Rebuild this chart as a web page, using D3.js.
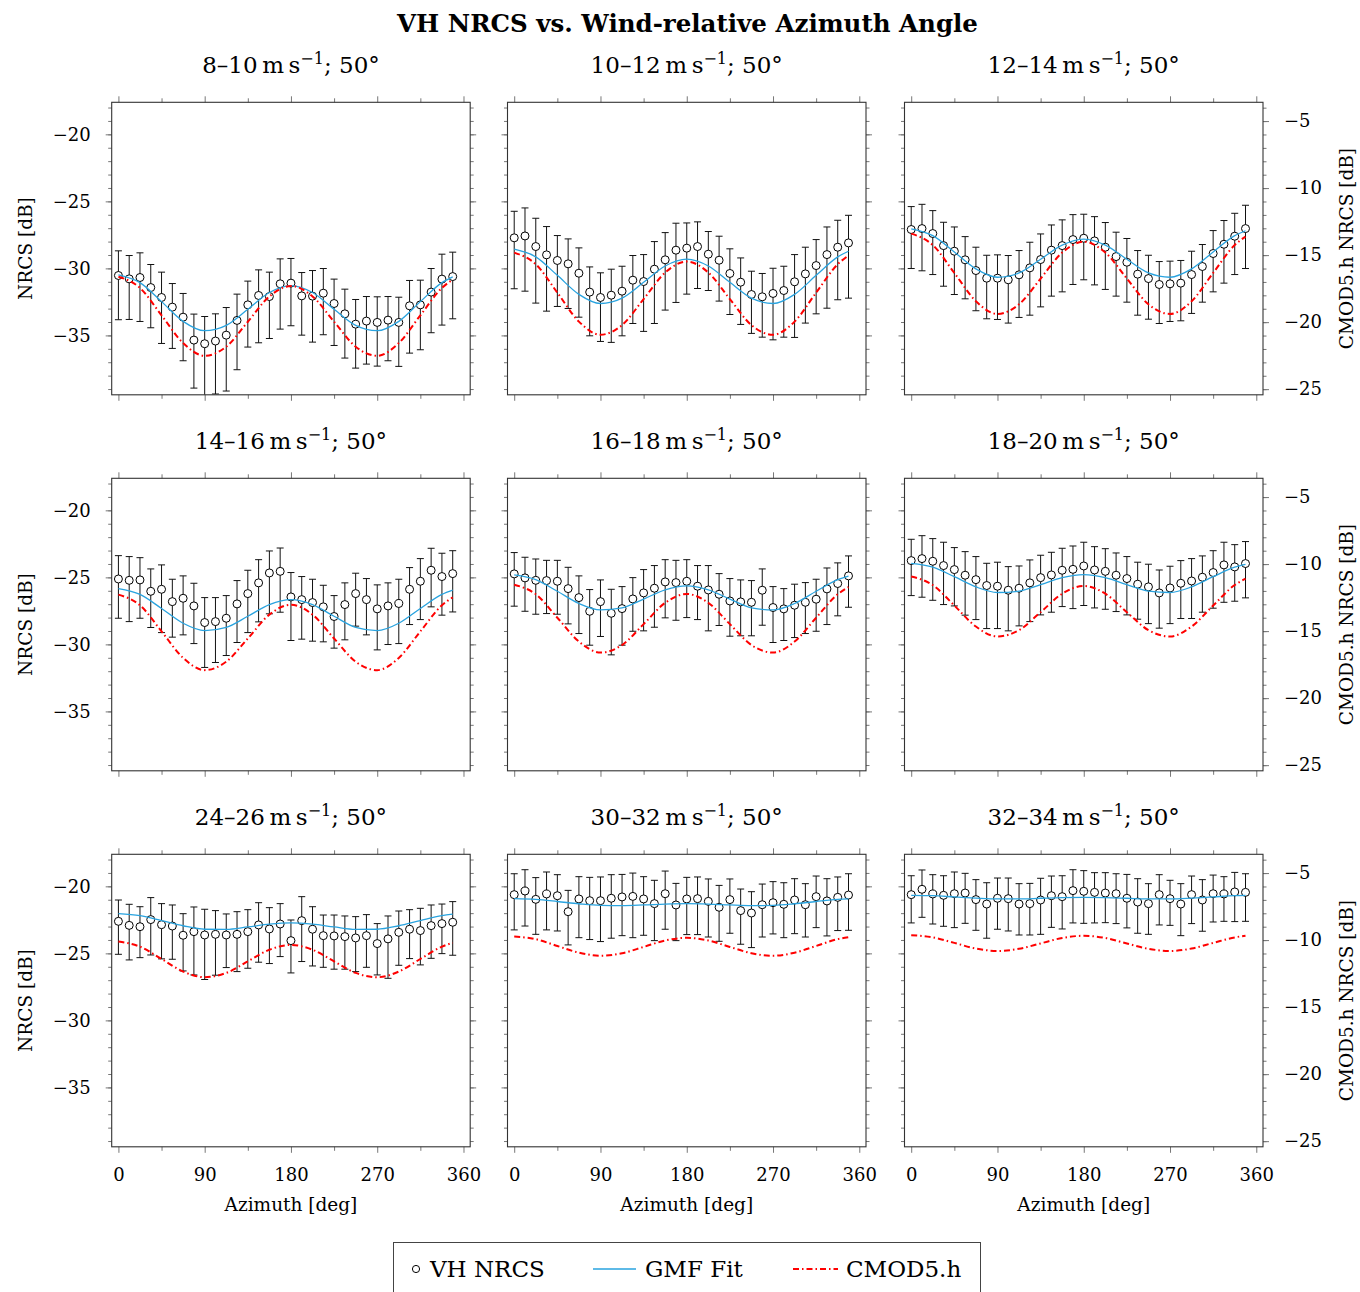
<!DOCTYPE html>
<html>
<head>
<meta charset="utf-8">
<script src="https://cdn.jsdelivr.net/npm/d3@7"></script>
<style>
  body { margin: 0; background: #fff; }
</style>
</head>
<body>
<svg id="chart"></svg>
<script>
// azimuth bins (deg) of the measured points
var azimuth = [0, 11.25, 22.5, 33.75, 45, 56.25, 67.5, 78.75, 90, 101.25, 112.5, 123.75,
    135, 146.25, 157.5, 168.75, 180, 191.25, 202.5, 213.75, 225, 236.25, 247.5, 258.75,
    270, 281.25, 292.5, 303.75, 315, 326.25, 337.5, 348.75];
// azimuths where the model curves are sampled
var curveAzimuth = [0, 22.5, 45, 67.5, 90, 112.5, 135, 157.5, 180, 202.5, 225, 247.5,
    270, 292.5, 315, 337.5, 348.75];

var speedBins = ["8–10", "10–12", "12–14", "14–16", "16–18", "18–20", "24–26", "30–32", "32–34"];

// VH NRCS mean [dB], one row per wind speed bin
var nrcs = [
    [-30.53, -30.78, -30.68, -31.43, -32.17, -32.89, -33.64, -35.35, -35.62, -35.42, -34.98, -33.88, -32.72, -32.02, -32.10, -31.15, -31.10, -32.05, -32.07, -31.85, -32.62, -33.39, -34.16, -33.93, -34.03, -33.86, -34.03, -32.79, -32.72, -31.77, -30.80, -30.61],
    [-27.72, -27.58, -28.37, -28.99, -29.41, -29.66, -30.36, -31.77, -32.17, -32.00, -31.70, -30.88, -30.98, -30.06, -29.36, -28.64, -28.49, -28.37, -28.94, -29.39, -30.38, -31.03, -31.95, -32.12, -31.87, -31.65, -31.00, -30.41, -29.79, -28.97, -28.42, -28.10],
    [-27.10, -27.03, -27.40, -28.30, -28.72, -29.36, -30.16, -30.73, -30.73, -30.85, -30.48, -29.96, -29.34, -28.64, -28.30, -27.85, -27.75, -27.95, -28.42, -29.12, -29.54, -30.43, -30.76, -31.20, -31.15, -31.10, -30.46, -29.86, -28.89, -28.20, -27.60, -27.03],
    [-25.12, -25.22, -25.19, -26.04, -25.89, -26.81, -26.56, -27.13, -28.37, -28.30, -28.05, -26.98, -26.21, -25.41, -24.67, -24.55, -26.46, -26.66, -26.88, -27.20, -27.92, -27.03, -26.21, -26.66, -27.35, -27.13, -26.95, -25.89, -25.29, -24.47, -24.94, -24.72],
    [-24.74, -25.04, -25.22, -25.24, -25.29, -25.84, -26.51, -27.53, -26.81, -27.68, -27.33, -26.61, -26.16, -25.81, -25.34, -25.39, -25.29, -25.66, -25.94, -26.26, -26.76, -26.83, -26.86, -25.96, -27.25, -27.35, -27.08, -26.86, -26.63, -25.86, -25.46, -24.89],
    [-23.75, -23.60, -23.80, -24.12, -24.42, -24.84, -25.17, -25.61, -25.66, -25.96, -25.81, -25.41, -25.02, -24.82, -24.47, -24.40, -24.15, -24.45, -24.55, -24.84, -25.09, -25.51, -25.71, -26.16, -25.79, -25.44, -25.27, -24.99, -24.64, -24.07, -24.22, -23.97],
    [-22.61, -22.91, -23.01, -22.48, -22.86, -22.96, -23.65, -23.38, -23.63, -23.58, -23.63, -23.58, -23.38, -22.88, -23.18, -22.81, -24.05, -22.56, -23.20, -23.68, -23.70, -23.75, -23.85, -23.68, -24.27, -23.92, -23.43, -23.20, -23.30, -22.93, -22.78, -22.68],
    [-20.62, -20.35, -20.97, -20.57, -20.70, -21.89, -20.94, -21.07, -21.07, -20.89, -20.79, -20.75, -20.94, -21.29, -20.55, -21.39, -20.94, -20.92, -21.12, -21.56, -20.99, -21.81, -21.99, -21.37, -21.22, -21.34, -21.02, -21.37, -20.77, -21.09, -20.82, -20.65],
    [-20.62, -20.22, -20.57, -20.67, -20.55, -20.50, -20.99, -21.32, -20.89, -20.92, -21.32, -21.29, -21.02, -20.70, -20.77, -20.32, -20.37, -20.45, -20.50, -20.55, -20.89, -21.17, -21.29, -20.62, -20.92, -21.32, -20.62, -21.02, -20.55, -20.57, -20.42, -20.45]
];
// upper end of the error bars [dB]
var nrcsUpper = [
    [-28.69, -29.04, -28.84, -29.71, -30.28, -31.13, -31.87, -33.41, -33.59, -33.39, -32.92, -31.92, -30.95, -30.11, -30.28, -29.29, -29.26, -30.31, -30.16, -30.01, -30.80, -31.55, -32.32, -32.10, -32.12, -32.10, -32.15, -30.90, -30.88, -30.01, -28.94, -28.79],
    [-25.74, -25.49, -26.26, -26.88, -27.55, -27.80, -28.47, -29.89, -30.33, -30.06, -29.84, -29.04, -28.97, -28.00, -27.33, -26.63, -26.61, -26.53, -27.25, -27.60, -28.54, -29.22, -30.21, -30.38, -29.99, -29.84, -28.97, -28.42, -27.85, -26.91, -26.41, -26.04],
    [-25.39, -25.22, -25.69, -26.56, -26.91, -27.63, -28.42, -29.02, -28.99, -29.04, -28.67, -28.05, -27.43, -26.76, -26.38, -25.99, -25.96, -26.14, -26.58, -27.30, -27.77, -28.67, -29.02, -29.49, -29.46, -29.41, -28.72, -28.22, -27.18, -26.43, -25.89, -25.29],
    [-23.38, -23.45, -23.53, -24.37, -24.07, -25.14, -24.89, -25.44, -26.51, -26.51, -26.36, -25.24, -24.47, -23.68, -23.03, -22.81, -24.64, -24.94, -25.14, -25.59, -26.36, -25.41, -24.69, -25.09, -25.56, -25.41, -25.14, -24.27, -23.60, -22.83, -23.20, -23.01],
    [-23.15, -23.50, -23.63, -23.73, -23.73, -24.25, -24.89, -25.91, -25.19, -25.89, -25.69, -25.02, -24.42, -24.12, -23.68, -23.73, -23.68, -24.12, -24.12, -24.72, -25.09, -25.19, -25.24, -24.37, -25.69, -25.84, -25.51, -25.39, -25.14, -24.30, -23.92, -23.40],
    [-22.16, -21.89, -22.11, -22.38, -22.78, -23.08, -23.45, -23.95, -23.87, -24.20, -24.15, -23.70, -23.35, -23.13, -22.83, -22.66, -22.38, -22.71, -22.86, -23.18, -23.45, -23.87, -24.02, -24.45, -24.17, -23.75, -23.60, -23.40, -23.01, -22.38, -22.56, -22.33],
    [-21.02, -21.34, -21.52, -20.84, -21.29, -21.39, -22.04, -21.54, -21.71, -21.81, -22.06, -21.89, -21.74, -21.22, -21.59, -21.29, -22.51, -20.77, -21.52, -22.14, -22.14, -22.21, -22.26, -22.11, -22.78, -22.21, -21.84, -21.74, -21.64, -21.39, -21.32, -21.14],
    [-19.06, -18.76, -19.35, -18.93, -19.13, -20.30, -19.28, -19.33, -19.30, -19.13, -19.11, -19.01, -19.28, -19.55, -18.86, -19.78, -19.33, -19.30, -19.45, -19.93, -19.45, -20.20, -20.40, -19.83, -19.65, -19.73, -19.43, -19.80, -19.23, -19.43, -19.30, -19.06],
    [-19.21, -18.78, -19.13, -19.21, -18.93, -19.03, -19.50, -19.73, -19.38, -19.38, -19.80, -19.78, -19.40, -19.23, -19.21, -18.76, -18.83, -18.98, -18.98, -19.06, -19.11, -19.43, -19.80, -19.13, -19.55, -19.80, -19.23, -19.50, -19.16, -19.28, -18.96, -19.06]
];
// lower end of the error bars [dB]
var nrcsLower = [
    [-33.83, -33.81, -33.96, -34.43, -35.60, -35.97, -36.89, -38.93, -40.20, -39.37, -39.15, -37.56, -35.87, -35.55, -35.23, -34.53, -34.28, -34.98, -35.50, -34.95, -35.75, -36.69, -37.44, -37.14, -37.29, -36.89, -37.31, -36.32, -36.07, -34.80, -34.23, -33.76],
    [-31.52, -31.70, -32.59, -33.19, -32.84, -32.99, -33.64, -35.03, -35.45, -35.52, -35.03, -34.11, -34.70, -34.11, -33.11, -32.54, -31.92, -31.50, -31.65, -32.44, -33.44, -34.18, -34.85, -35.13, -35.33, -35.13, -35.15, -34.08, -33.39, -32.97, -32.34, -32.22],
    [-30.01, -30.18, -30.46, -31.33, -31.95, -32.27, -33.16, -33.76, -33.81, -34.08, -33.66, -33.49, -32.87, -32.07, -31.75, -31.20, -30.85, -31.23, -31.57, -32.07, -32.52, -33.49, -33.79, -34.11, -33.96, -33.91, -33.36, -32.52, -31.75, -31.10, -30.46, -30.01],
    [-28.05, -28.30, -28.05, -28.74, -29.12, -29.46, -29.29, -29.94, -31.72, -31.35, -30.83, -29.86, -29.12, -28.32, -27.72, -27.60, -29.71, -29.61, -29.76, -29.81, -30.28, -29.66, -28.64, -29.29, -30.41, -30.01, -29.94, -28.52, -28.15, -27.20, -27.82, -27.58],
    [-27.15, -27.53, -27.75, -27.70, -27.75, -28.47, -29.19, -30.06, -29.41, -30.78, -30.06, -29.02, -28.99, -28.72, -28.02, -28.20, -28.00, -28.15, -28.99, -28.59, -29.39, -29.36, -29.36, -28.57, -29.86, -29.71, -29.49, -29.19, -29.02, -28.52, -27.87, -27.23],
    [-26.36, -26.48, -26.71, -27.03, -27.13, -27.82, -28.15, -28.82, -28.82, -28.99, -28.62, -28.30, -27.80, -27.60, -27.18, -27.33, -27.10, -27.28, -27.38, -27.55, -27.80, -28.12, -28.45, -28.79, -28.45, -28.07, -28.07, -27.60, -27.30, -26.86, -26.78, -26.53],
    [-25.07, -25.49, -25.32, -25.12, -25.41, -25.44, -26.31, -26.61, -26.95, -26.63, -26.06, -26.36, -26.11, -25.66, -25.76, -25.24, -26.46, -25.61, -25.94, -26.04, -26.18, -26.18, -26.36, -26.04, -26.61, -26.86, -25.89, -25.39, -25.86, -25.37, -25.02, -25.14],
    [-23.25, -22.96, -23.58, -23.25, -23.33, -24.37, -23.83, -23.97, -24.12, -23.87, -23.68, -23.83, -23.65, -24.05, -23.20, -24.05, -23.60, -23.60, -23.78, -24.10, -23.50, -24.32, -24.57, -23.78, -23.55, -23.83, -23.53, -23.78, -23.08, -23.70, -23.30, -23.28],
    [-22.73, -22.31, -22.81, -22.98, -23.08, -22.76, -23.28, -23.87, -23.20, -23.33, -23.63, -23.63, -23.58, -23.06, -23.18, -22.73, -22.76, -22.73, -22.71, -22.78, -23.10, -23.50, -23.58, -22.88, -22.91, -23.68, -22.78, -23.35, -22.66, -22.61, -22.63, -22.61]
];
// GMF fit [dB] at curveAzimuth (left axis)
var gmfFit = [
    [-30.48, -31.06, -32.48, -33.95, -34.65, -34.25, -33.05, -31.80, -31.28, -31.80, -33.05, -34.25, -34.65, -33.95, -32.48, -31.06, -30.63],
    [-28.57, -29.14, -30.52, -31.94, -32.62, -32.22, -31.04, -29.82, -29.31, -29.82, -31.04, -32.22, -32.62, -31.94, -30.52, -29.14, -28.72],
    [-27.05, -27.56, -28.78, -30.04, -30.66, -30.34, -29.32, -28.27, -27.82, -28.27, -29.32, -30.34, -30.66, -30.04, -28.78, -27.56, -27.19],
    [-25.84, -26.27, -27.32, -28.42, -28.97, -28.73, -27.90, -27.03, -26.66, -27.03, -27.90, -28.73, -28.97, -28.42, -27.32, -26.27, -25.95],
    [-24.82, -25.17, -26.04, -26.95, -27.43, -27.27, -26.62, -25.93, -25.64, -25.93, -26.62, -27.27, -27.43, -26.95, -26.04, -25.17, -24.91],
    [-23.95, -24.24, -24.95, -25.71, -26.13, -26.03, -25.55, -25.02, -24.79, -25.02, -25.55, -26.03, -26.13, -25.71, -24.95, -24.24, -24.03],
    [-22.04, -22.19, -22.55, -22.94, -23.20, -23.21, -23.03, -22.82, -22.73, -22.82, -23.03, -23.21, -23.20, -22.94, -22.55, -22.19, -22.08],
    [-20.92, -20.98, -21.13, -21.30, -21.42, -21.44, -21.39, -21.32, -21.29, -21.32, -21.39, -21.44, -21.42, -21.30, -21.13, -20.98, -20.94],
    [-20.67, -20.70, -20.79, -20.88, -20.94, -20.94, -20.89, -20.84, -20.82, -20.84, -20.89, -20.94, -20.94, -20.88, -20.79, -20.70, -20.68]
];
// CMOD5.h NRCS [dB] at curveAzimuth (right axis)
var cmod5h = [
    [-16.61, -17.45, -19.49, -21.56, -22.51, -21.83, -19.97, -18.08, -17.30, -18.08, -19.97, -21.83, -22.51, -21.56, -19.49, -17.45, -16.82],
    [-14.81, -15.68, -17.80, -19.96, -20.94, -20.22, -18.28, -16.30, -15.48, -16.30, -18.28, -20.22, -20.94, -19.96, -17.80, -15.68, -15.03],
    [-13.40, -14.25, -16.33, -18.44, -19.39, -18.67, -16.75, -14.81, -14.00, -14.81, -16.75, -18.67, -19.39, -18.44, -16.33, -14.25, -13.62],
    [-12.28, -13.07, -15.02, -17.00, -17.91, -17.28, -15.55, -13.77, -13.03, -13.77, -15.55, -17.28, -17.91, -17.00, -15.02, -13.07, -12.48],
    [-11.54, -12.25, -14.00, -15.78, -16.60, -16.04, -14.48, -12.89, -12.23, -12.89, -14.48, -16.04, -16.60, -15.78, -14.00, -12.25, -11.72],
    [-10.93, -11.56, -13.09, -14.66, -15.40, -14.93, -13.59, -12.21, -11.63, -12.21, -13.59, -14.93, -15.40, -14.66, -13.09, -11.56, -11.09],
    [-10.11, -10.49, -11.41, -12.35, -12.77, -12.45, -11.59, -10.72, -10.36, -10.72, -11.59, -12.45, -12.77, -12.35, -11.41, -10.49, -10.20],
    [-9.73, -9.93, -10.44, -10.94, -11.17, -10.98, -10.51, -10.03, -9.83, -10.03, -10.51, -10.98, -11.17, -10.94, -10.44, -9.93, -9.78],
    [-9.63, -9.80, -10.21, -10.63, -10.81, -10.65, -10.25, -9.84, -9.68, -9.84, -10.25, -10.65, -10.81, -10.63, -10.21, -9.80, -9.67]
];

var xTicks = [0, 90, 180, 270, 360];
var xMinorTicks = [45, 135, 225, 315];
var leftTicks = [-35, -30, -25, -20];
var rightTicks = [-25, -20, -15, -10, -5];

var W = 1360, H = 1292;
var font = "'DejaVu Serif', 'Liberation Serif', serif";
var colLeft = [111.7, 507.5, 904.5],
    rowTop = [102.3, 478.3, 854.3];
var pw = 358.5, ph = 292.5;

var svg = d3.select("#chart")
        .attr("width", W)
        .attr("height", H)
        .style("font-family", font);

var x = d3.scaleLinear().domain([-7, 367]).range([0, pw]);
var yLeft = d3.scaleLinear().domain([-39.43, -17.61]).range([ph, 0]);
var yRight = d3.scaleLinear().domain([-25.42, -3.60]).range([ph, 0]);
var fmt = d3.format("d");

// main title
svg.append("text")
        .attr("x", 687.5)
        .attr("y", 31.5)
        .attr("text-anchor", "middle")
        .attr("font-weight", "bold")
        .attr("font-size", 24.5)
        .text("VH NRCS vs. Wind-relative Azimuth Angle");

var defs = svg.append("defs");

function styleAxis(g, fontSize) {
    g.select(".domain").remove();
    g.selectAll(".tick line").attr("stroke", "#777").attr("stroke-width", 1);
    g.selectAll(".tick text").attr("fill", "#000")
            .attr("font-family", font).attr("font-size", fontSize);
    g.attr("font-family", null).attr("font-size", null);
}

speedBins.forEach(function (bin, i) {
    var col = i % 3, row = Math.floor(i / 3);
    var g = svg.append("g")
            .attr("transform", "translate(" + colLeft[col] + "," + rowTop[row] + ")");

    // panel title
    var t = g.append("text")
            .attr("x", pw / 2)
            .attr("y", -29.6)
            .attr("text-anchor", "middle")
            .attr("font-size", 23);
    t.append("tspan").text(bin + "\u2009m\u2009s");
    t.append("tspan").attr("dy", -9).attr("font-size", 16).text("\u22121");
    t.append("tspan").attr("dy", 9).text("; 50°");

    // ticks: x (top and bottom)
    var bottom = g.append("g").attr("transform", "translate(0," + ph + ")")
            .call(d3.axisBottom(x).tickValues(xTicks).tickSize(6).tickPadding(15)
                    .tickFormat(row === 2 ? fmt : ""));
    styleAxis(bottom, 18);
    styleAxis(g.append("g").attr("transform", "translate(0," + ph + ")")
            .call(d3.axisBottom(x).tickValues(xMinorTicks).tickSize(4).tickFormat("")), 18);
    styleAxis(g.append("g")
            .call(d3.axisTop(x).tickValues(xTicks).tickSize(6).tickFormat("")), 18);
    styleAxis(g.append("g")
            .call(d3.axisTop(x).tickValues(xMinorTicks).tickSize(4).tickFormat("")), 18);

    // ticks: y left
    styleAxis(g.append("g")
            .call(d3.axisLeft(yLeft).tickValues(leftTicks).tickSize(6).tickPadding(15)
                    .tickFormat(col === 0 ? fmt : "")), 18);
    styleAxis(g.append("g")
            .call(d3.axisLeft(yLeft).tickValues(d3.range(-39, -17)).tickSize(3.5).tickFormat("")), 18);

    // ticks: y right
    if (col === 2) {
        styleAxis(g.append("g").attr("transform", "translate(" + pw + ",0)")
                .call(d3.axisRight(yRight).tickValues(rightTicks).tickSize(6).tickPadding(15)
                        .tickFormat(fmt)), 18);
        styleAxis(g.append("g").attr("transform", "translate(" + pw + ",0)")
                .call(d3.axisRight(yRight).tickValues(d3.range(-25, -3)).tickSize(3.5)
                        .tickFormat("")), 18);
    } else {
        styleAxis(g.append("g").attr("transform", "translate(" + pw + ",0)")
                .call(d3.axisRight(yLeft).tickValues(leftTicks).tickSize(6).tickFormat("")), 18);
        styleAxis(g.append("g").attr("transform", "translate(" + pw + ",0)")
                .call(d3.axisRight(yLeft).tickValues(d3.range(-39, -17)).tickSize(3.5)
                        .tickFormat("")), 18);
    }

    // plot area
    defs.append("clipPath").attr("id", "clip" + i)
            .append("rect").attr("width", pw).attr("height", ph);
    var plot = g.append("g").attr("clip-path", "url(#clip" + i + ")");

    var pts = azimuth.map(function (a, j) {
        return {az: a, v: nrcs[i][j], hi: nrcsUpper[i][j], lo: nrcsLower[i][j]};
    });

    // error bars
    var bars = plot.selectAll("g.bar")
            .data(pts)
            .enter()
            .append("g")
            .attr("class", "bar")
            .attr("stroke", "#111")
            .attr("stroke-width", 1);
    bars.append("line")
            .attr("x1", function (d) { return x(d.az); })
            .attr("x2", function (d) { return x(d.az); })
            .attr("y1", function (d) { return yLeft(d.hi); })
            .attr("y2", function (d) { return yLeft(d.lo); });
    bars.append("line")
            .attr("x1", function (d) { return x(d.az) - 3.5; })
            .attr("x2", function (d) { return x(d.az) + 3.5; })
            .attr("y1", function (d) { return yLeft(d.hi); })
            .attr("y2", function (d) { return yLeft(d.hi); });
    bars.append("line")
            .attr("x1", function (d) { return x(d.az) - 3.5; })
            .attr("x2", function (d) { return x(d.az) + 3.5; })
            .attr("y1", function (d) { return yLeft(d.lo); })
            .attr("y2", function (d) { return yLeft(d.lo); });

    // circles
    plot.selectAll("circle")
            .data(pts)
            .enter()
            .append("circle")
            .attr("cx", function (d) { return x(d.az); })
            .attr("cy", function (d) { return yLeft(d.v); })
            .attr("r", 4)
            .attr("fill", "#fff")
            .attr("stroke", "#000")
            .attr("stroke-width", 1);

    // GMF fit
    plot.append("path")
            .datum(curveAzimuth.map(function (a, j) { return [a, gmfFit[i][j]]; }))
            .attr("fill", "none")
            .attr("stroke", "#29a3df")
            .attr("stroke-width", 1.3)
            .attr("d", d3.line()
                    .x(function (d) { return x(d[0]); })
                    .y(function (d) { return yLeft(d[1]); })
                    .curve(d3.curveMonotoneX));

    // CMOD5.h (right axis)
    plot.append("path")
            .datum(curveAzimuth.map(function (a, j) { return [a, cmod5h[i][j]]; }))
            .attr("fill", "none")
            .attr("stroke", "#ff0000")
            .attr("stroke-width", 2)
            .attr("stroke-dasharray", "6,3,1.5,3")
            .attr("d", d3.line()
                    .x(function (d) { return x(d[0]); })
                    .y(function (d) { return yRight(d[1]); })
                    .curve(d3.curveMonotoneX));

    // frame
    g.append("rect")
            .attr("width", pw)
            .attr("height", ph)
            .attr("fill", "none")
            .attr("stroke", "#333")
            .attr("stroke-width", 1.1);

    // axis labels
    if (col === 0) {
        svg.append("text")
                .attr("transform", "translate(32," + (rowTop[row] + ph / 2) + ") rotate(-90)")
                .attr("text-anchor", "middle")
                .attr("font-size", 18.5)
                .text("NRCS [dB]");
    }
    if (col === 2) {
        svg.append("text")
                .attr("transform", "translate(1353," + (rowTop[row] + ph / 2) + ") rotate(-90)")
                .attr("text-anchor", "middle")
                .attr("font-size", 18.5)
                .text("CMOD5.h NRCS [dB]");
    }
    if (row === 2) {
        g.append("text")
                .attr("x", pw / 2)
                .attr("y", 1211.5 - rowTop[row])
                .attr("text-anchor", "middle")
                .attr("font-size", 18.5)
                .text("Azimuth [deg]");
    }
});

// legend
var legend = svg.append("g");
legend.append("rect")
        .attr("x", 393.5).attr("y", 1242.5)
        .attr("width", 587).attr("height", 70)
        .attr("fill", "#fff")
        .attr("stroke", "#444")
        .attr("stroke-width", 1);
legend.append("circle")
        .attr("cx", 416).attr("cy", 1269).attr("r", 3.6)
        .attr("fill", "#fff").attr("stroke", "#000");
legend.append("line")
        .attr("x1", 593).attr("x2", 636).attr("y1", 1269).attr("y2", 1269)
        .attr("stroke", "#29a3df").attr("stroke-width", 1.3);
legend.append("line")
        .attr("x1", 793).attr("x2", 838).attr("y1", 1269).attr("y2", 1269)
        .attr("stroke", "#ff0000").attr("stroke-width", 2)
        .attr("stroke-dasharray", "6,3,1.5,3");
var legendItems = [["VH NRCS", 430], ["GMF Fit", 645], ["CMOD5.h", 846]];
legend.selectAll("text.item")
        .data(legendItems)
        .enter()
        .append("text")
        .attr("class", "item")
        .attr("x", function (d) { return d[1]; })
        .attr("y", 1277)
        .attr("font-size", 23)
        .text(function (d) { return d[0]; });
</script>
</body>
</html>
